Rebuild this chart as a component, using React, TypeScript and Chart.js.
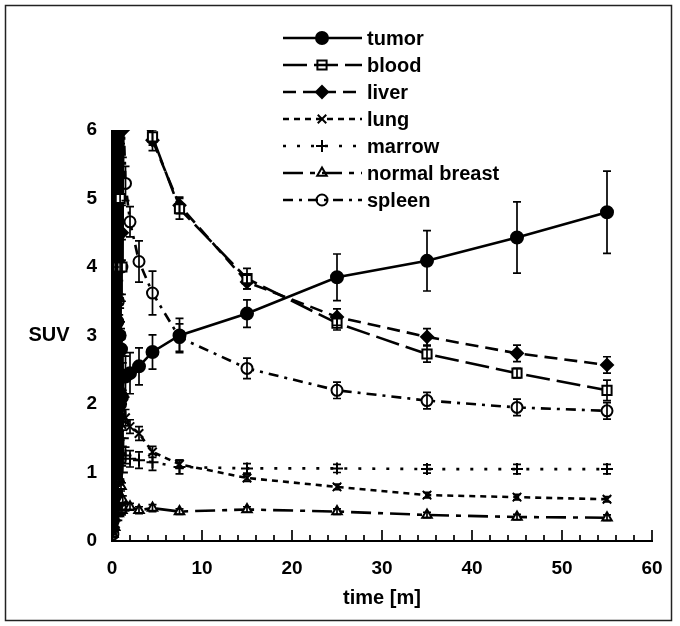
import React, { useEffect, useRef } from "react";
import { Chart, registerables } from "chart.js";

Chart.register(...registerables);

// ---------------- data ----------------
const TIMES = [0.1, 0.2, 0.3, 0.4, 0.5, 0.6, 0.7, 0.8, 0.9, 1.0, 1.1, 1.2, 1.5, 2, 3, 4.5, 7.5, 15, 25, 35, 45, 55];

const TUMOR = [0.3, 2.0, 0.5, 3.5, 1.5, 3.2, 1.8, 3.0, 2.0, 2.8, 2.1, 2.4, 2.4, 2.45, 2.55, 2.76, 3.0, 3.32, 3.85, 4.09, 4.43, 4.8];
const TUMOR_ERR = [0.1, 0.3, 0.2, 0.5, 0.4, 0.4, 0.35, 0.3, 0.3, 0.3, 0.3, 0.3, 0.3, 0.3, 0.27, 0.25, 0.25, 0.2, 0.34, 0.44, 0.52, 0.6];

const BLOOD = [0.4, 9.0, 2.0, 12.0, 4.0, 10.0, 3.0, 8.0, 5.0, 9.0, 4.0, 8.0, 6.9, 6.7, 6.4, 5.9, 4.85, 3.83, 3.18, 2.73, 2.45, 2.2];
const BLOOD_ERR = [0.1, 0.8, 0.4, 1.0, 0.6, 0.7, 0.5, 0.6, 0.5, 0.5, 0.5, 0.5, 0.3, 0.3, 0.2, 0.12, 0.15, 0.15, 0.1, 0.12, 0.07, 0.15];

const LIVER = [0.2, 5.0, 1.0, 7.0, 2.0, 6.5, 3.0, 7.0, 4.0, 6.5, 4.5, 6.0, 6.6, 6.5, 6.3, 5.85, 4.9, 3.78, 3.27, 2.98, 2.74, 2.57];
const LIVER_ERR = [0.1, 0.5, 0.3, 0.8, 0.4, 0.5, 0.4, 0.5, 0.4, 0.5, 0.4, 0.4, 0.3, 0.3, 0.2, 0.15, 0.12, 0.1, 0.12, 0.12, 0.12, 0.12];

const LUNG = [0.2, 3.0, 0.5, 5.5, 1.5, 4.0, 1.5, 3.5, 1.8, 3.0, 1.7, 2.4, 1.8, 1.67, 1.57, 1.3, 1.12, 0.92, 0.79, 0.67, 0.64, 0.61];
const LUNG_ERR = [0.05, 0.4, 0.1, 0.6, 0.3, 0.4, 0.3, 0.3, 0.2, 0.2, 0.2, 0.2, 0.12, 0.1, 0.1, 0.08, 0.06, 0.05, 0.04, 0.04, 0.04, 0.04];

const MARROW = [0.15, 2.0, 0.3, 4.0, 1.0, 3.0, 0.9, 2.5, 1.1, 2.0, 1.0, 1.5, 1.25, 1.2, 1.18, 1.15, 1.08, 1.06, 1.06, 1.05, 1.05, 1.05];
const MARROW_ERR = [0.05, 0.3, 0.1, 0.5, 0.2, 0.3, 0.2, 0.2, 0.2, 0.15, 0.15, 0.12, 0.12, 0.12, 0.12, 0.12, 0.1, 0.07, 0.06, 0.06, 0.07, 0.07];

const BREAST = [0.1, 1.0, 0.2, 1.6, 0.4, 1.2, 0.4, 0.9, 0.45, 0.8, 0.45, 0.6, 0.5, 0.5, 0.45, 0.48, 0.43, 0.46, 0.43, 0.38, 0.35, 0.34];
const BREAST_ERR = [0.03, 0.15, 0.05, 0.2, 0.1, 0.12, 0.1, 0.08, 0.08, 0.07, 0.07, 0.06, 0.06, 0.05, 0.05, 0.05, 0.04, 0.04, 0.04, 0.04, 0.04, 0.04];

const SPLEEN = [0.1, 4.0, 0.5, 8.0, 2.5, 7.0, 3.5, 6.5, 3.0, 6.2, 4.0, 6.5, 5.22, 4.66, 4.08, 3.62, 2.97, 2.52, 2.2, 2.05, 1.95, 1.9];
const SPLEEN_ERR = [0.05, 0.4, 0.1, 0.8, 0.4, 0.6, 0.4, 0.5, 0.4, 0.4, 0.4, 0.35, 0.25, 0.22, 0.3, 0.32, 0.2, 0.15, 0.12, 0.12, 0.12, 0.12];

const X_MIN = 0;
const X_MAX = 60;
const X_MAJOR_STEP = 10;
const X_MINOR_STEP = 2;
const Y_MIN = 0;
const Y_MAX = 6;
const Y_STEP = 1;
// frames shorter than this (min) form the dense uptake phase
const EARLY_PHASE_END = 1.5;

const X_TITLE = "time [m]";
const Y_TITLE = "SUV";

// ---------------- styles ----------------
const FONT = "'Liberation Sans', Arial, Helvetica, sans-serif";
const INK = "#000";

type SeriesDef = {
  label: string;
  values: number[];
  err: number[];
  dash: number[];
  point: string;
  fill: string;
  radius: number;
};

const SERIES: SeriesDef[] = [
  { label: "tumor", values: TUMOR, err: TUMOR_ERR, dash: [], point: "circle", fill: INK, radius: 6 },
  { label: "blood", values: BLOOD, err: BLOOD_ERR, dash: [24, 7], point: "rect", fill: "#fff", radius: 6.5 },
  { label: "liver", values: LIVER, err: LIVER_ERR, dash: [13, 7], point: "rectRot", fill: INK, radius: 6 },
  { label: "lung", values: LUNG, err: LUNG_ERR, dash: [6, 5], point: "crossRot", fill: INK, radius: 6 },
  { label: "marrow", values: MARROW, err: MARROW_ERR, dash: [3, 11], point: "cross", fill: INK, radius: 6 },
  { label: "normal breast", values: BREAST, err: BREAST_ERR, dash: [20, 7, 5, 7], point: "triangle", fill: "#fff", radius: 5.5 },
  { label: "spleen", values: SPLEEN, err: SPLEEN_ERR, dash: [10, 6, 3, 6], point: "circle", fill: "#fff", radius: 5.5 },
];

function drawMarker(ctx: CanvasRenderingContext2D, style: string, x: number, y: number, r: number, fill: string) {
  ctx.save();
  ctx.setLineDash([]);
  ctx.lineWidth = 2;
  ctx.strokeStyle = INK;
  ctx.fillStyle = fill;
  ctx.beginPath();
  const s = r * Math.SQRT1_2;
  switch (style) {
    case "circle":
      ctx.arc(x, y, r, 0, Math.PI * 2);
      ctx.fill();
      ctx.stroke();
      break;
    case "rect":
      ctx.rect(x - s, y - s, 2 * s, 2 * s);
      ctx.fill();
      ctx.stroke();
      break;
    case "rectRot":
      ctx.moveTo(x, y - r);
      ctx.lineTo(x + r, y);
      ctx.lineTo(x, y + r);
      ctx.lineTo(x - r, y);
      ctx.closePath();
      ctx.fill();
      ctx.stroke();
      break;
    case "triangle": {
      const h = r * 1.5;
      ctx.moveTo(x, y - r);
      ctx.lineTo(x + h * 0.58, y + r * 0.5);
      ctx.lineTo(x - h * 0.58, y + r * 0.5);
      ctx.closePath();
      ctx.fill();
      ctx.stroke();
      break;
    }
    case "cross":
      ctx.moveTo(x, y - r);
      ctx.lineTo(x, y + r);
      ctx.moveTo(x - r, y);
      ctx.lineTo(x + r, y);
      ctx.stroke();
      break;
    case "crossRot":
      ctx.moveTo(x - s, y - s);
      ctx.lineTo(x + s, y + s);
      ctx.moveTo(x - s, y + s);
      ctx.lineTo(x + s, y - s);
      ctx.stroke();
      break;
  }
  ctx.restore();
}

const decorPlugin = {
  id: "decor",
  afterDatasetsDraw(chart: any) {
    const { ctx, chartArea } = chart;
    const xs = chart.scales.x;
    const ys = chart.scales.y;
    ctx.save();
    ctx.beginPath();
    ctx.rect(chartArea.left, chartArea.top, chartArea.right - chartArea.left, chartArea.bottom - chartArea.top);
    ctx.clip();
    ctx.strokeStyle = INK;
    ctx.lineWidth = 1.7;
    ctx.setLineDash([]);
    SERIES.forEach((s) => {
      s.values.forEach((v, j) => {
        const e = s.err[j];
        const x = xs.getPixelForValue(TIMES[j]);
        const yt = ys.getPixelForValue(v + e);
        const yb = ys.getPixelForValue(v - e);
        ctx.beginPath();
        ctx.moveTo(x, yt);
        ctx.lineTo(x, yb);
        ctx.moveTo(x - 4, yt);
        ctx.lineTo(x + 4, yt);
        ctx.moveTo(x - 4, yb);
        ctx.lineTo(x + 4, yb);
        ctx.stroke();
      });
    });
    ctx.restore();
  },
  afterDraw(chart: any) {
    const { ctx, chartArea } = chart;
    const xs = chart.scales.x;
    ctx.save();
    ctx.strokeStyle = INK;
    ctx.setLineDash([]);
    // axes
    ctx.lineWidth = 2;
    ctx.beginPath();
    ctx.moveTo(chartArea.left, chartArea.top);
    ctx.lineTo(chartArea.left, chartArea.bottom);
    ctx.lineTo(chartArea.right + 1, chartArea.bottom);
    ctx.stroke();
    // inward x ticks
    ctx.lineWidth = 1.7;
    for (let v = X_MIN; v <= X_MAX; v += X_MINOR_STEP) {
      const x = xs.getPixelForValue(v);
      const len = v % X_MAJOR_STEP === 0 ? 11 : 6;
      ctx.beginPath();
      ctx.moveTo(x, chartArea.bottom);
      ctx.lineTo(x, chartArea.bottom - len);
      ctx.stroke();
    }
    // titles
    ctx.fillStyle = INK;
    ctx.font = `bold 20px ${FONT}`;
    ctx.textAlign = "center";
    ctx.textBaseline = "middle";
    ctx.fillText(X_TITLE, (chartArea.left + chartArea.right) / 2, 598);
    ctx.fillText(Y_TITLE, 49, chart.scales.y.getPixelForValue(3));
    // legend
    ctx.font = `bold 20px ${FONT}`;
    ctx.textAlign = "left";
    SERIES.forEach((s, k) => {
      const y = 38 + k * 27;
      drawMarker(ctx, s.point, 322, y, s.radius, s.fill);
      ctx.save();
      ctx.lineWidth = 2.5;
      ctx.setLineDash(s.dash);
      ctx.beginPath();
      ctx.moveTo(283, y);
      ctx.lineTo(362, y);
      ctx.stroke();
      ctx.restore();
      ctx.fillText(s.label, 367, y + 1);
    });
    // frame
    ctx.lineWidth = 1.5;
    ctx.strokeStyle = "#222";
    ctx.strokeRect(5.5, 5.5, 666, 615);
    ctx.restore();
  },
};

export default function App() {
  const canvasRef = useRef<HTMLCanvasElement | null>(null);

  useEffect(() => {
    if (!canvasRef.current) return;
    const isEarly = (c: any) => TIMES[c.p1DataIndex] < EARLY_PHASE_END;
    const datasets = SERIES.map((s) => ({
      label: s.label,
      data: TIMES.map((t, j) => ({ x: t, y: s.values[j] })),
      borderColor: INK,
      borderWidth: 2.6,
      borderDash: s.dash,
      segment: {
        borderDash: (c: any) => (isEarly(c) ? [] : undefined),
        borderWidth: (c: any) => (isEarly(c) ? 3.5 : undefined),
      },
      pointStyle: s.point as any,
      pointRadius: s.radius,
      pointBorderWidth: 2,
      pointBackgroundColor: s.fill,
      pointBorderColor: INK,
      pointHoverRadius: s.radius,
      tension: 0,
      fill: false,
      clip: 0,
    }));

    const chart = new Chart(canvasRef.current, {
      type: "line",
      data: { datasets },
      options: {
        responsive: false,
        animation: false,
        devicePixelRatio: 1,
        events: [],
        layout: { padding: { top: 130, right: 28, left: 0, bottom: 0 } },
        plugins: {
          legend: { display: false },
          tooltip: { enabled: false },
          title: { display: false },
        },
        scales: {
          x: {
            type: "linear",
            min: X_MIN,
            max: X_MAX,
            afterFit: (s: any) => {
              s.height = 85;
            },
            grid: { display: false, drawTicks: false },
            border: { display: false },
            ticks: {
              stepSize: X_MAJOR_STEP,
              padding: 16,
              autoSkip: false,
              maxRotation: 0,
              color: INK,
              font: { family: FONT, size: 19, weight: "bold" },
            },
          },
          y: {
            type: "linear",
            min: Y_MIN,
            max: Y_MAX,
            afterFit: (s: any) => {
              s.width = 112;
            },
            grid: { display: false, drawTicks: false },
            border: { display: false },
            ticks: {
              stepSize: Y_STEP,
              padding: 15,
              color: INK,
              font: { family: FONT, size: 19, weight: "bold" },
            },
          },
        },
      } as any,
      plugins: [decorPlugin],
    });
    return () => chart.destroy();
  }, []);

  return (
    <div style={{ position: "absolute", left: 0, top: 0, width: 680, height: 626, background: "#fff" }}>
      <canvas ref={canvasRef} width={680} height={626} style={{ display: "block" }} />
    </div>
  );
}
